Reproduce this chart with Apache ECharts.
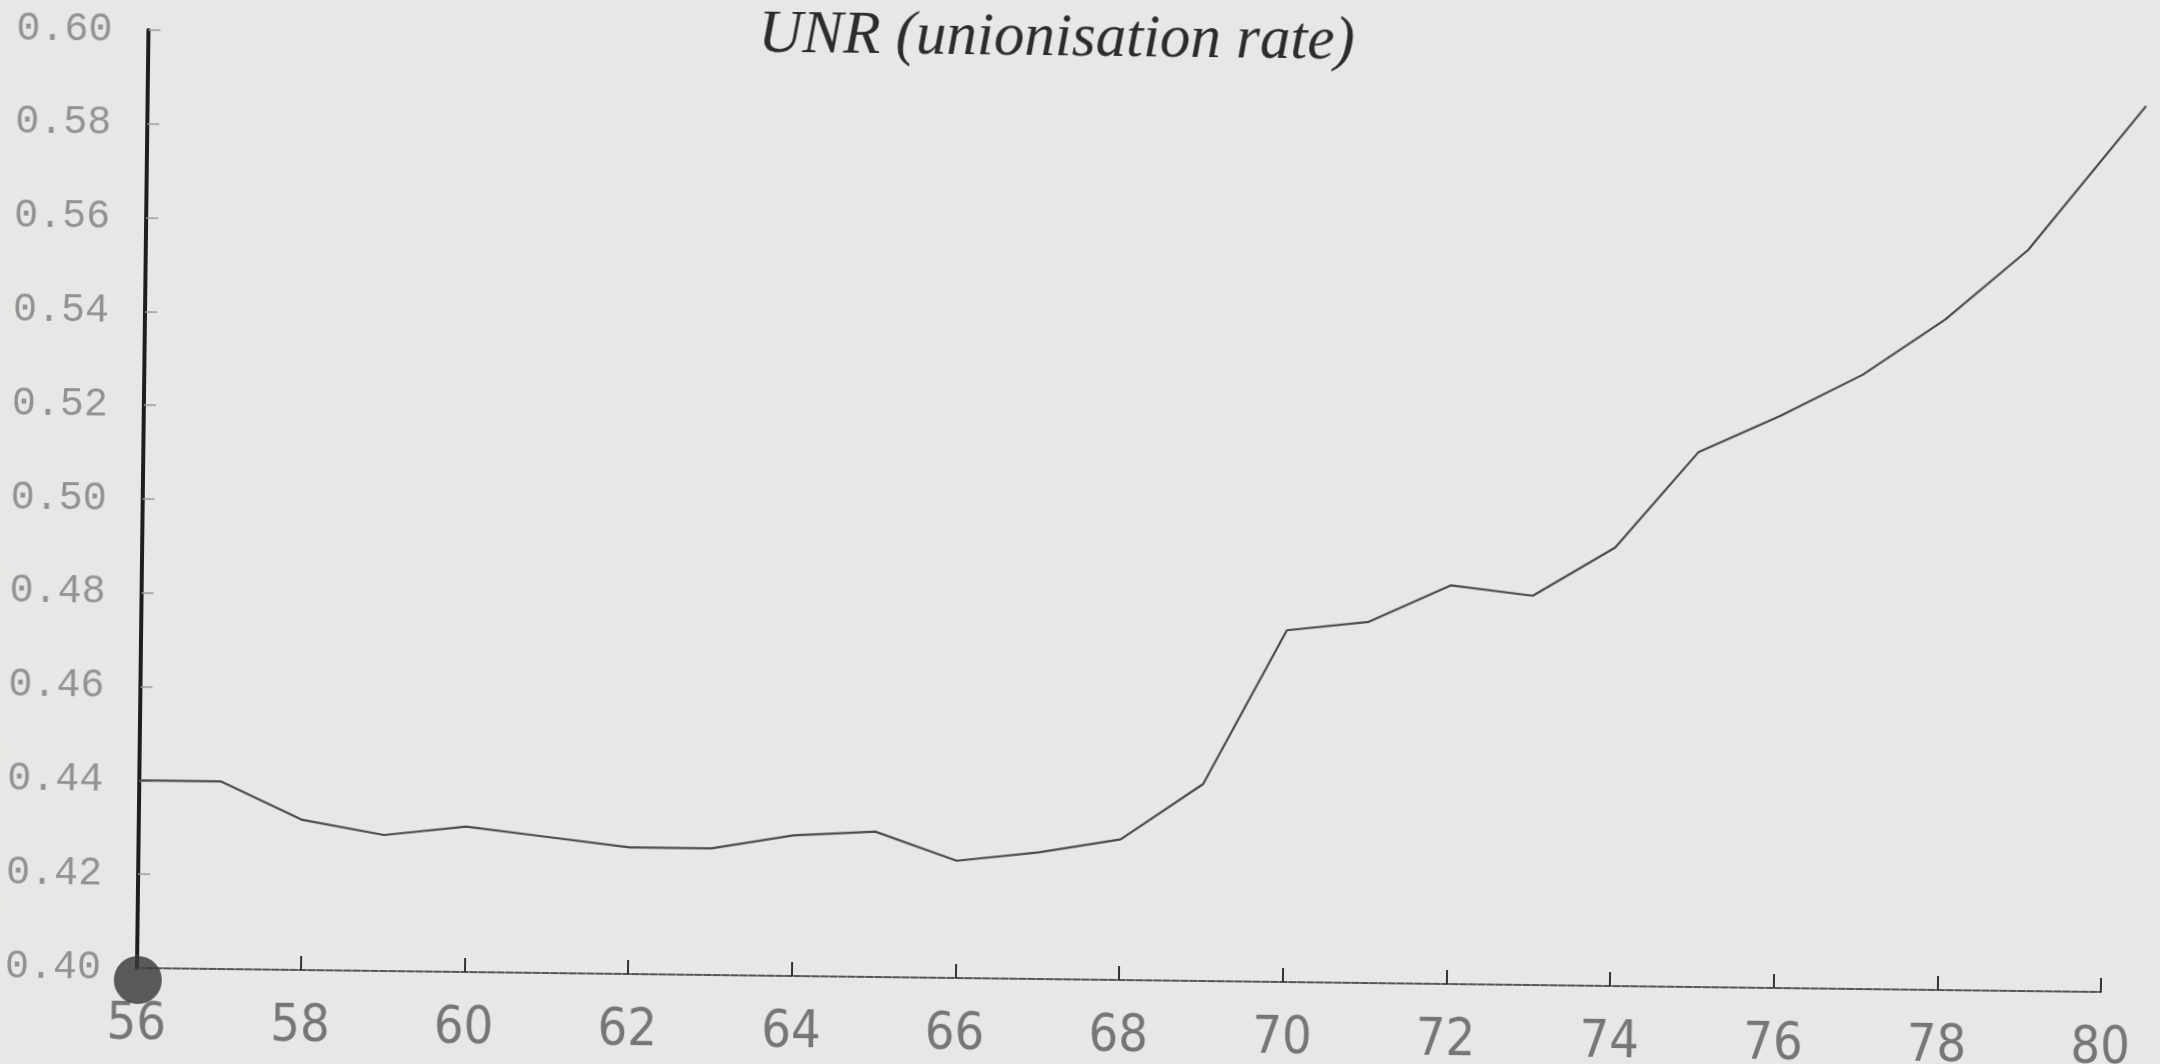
<!DOCTYPE html>
<html>
<head>
<meta charset="utf-8">
<script src="https://cdn.jsdelivr.net/npm/echarts@6/dist/echarts.min.js"></script>
<style>
  html, body { margin: 0; padding: 0; background: #e7e7e5; overflow: hidden; }
  #chart { width: 2160px; height: 1064px; transform: rotate(0.7deg); transform-origin: 137px 968px; }
</style>
</head>
<body>
<div id="chart"></div>
<script>
// Years (19xx) and unionisation rate
const years = [56, 57, 58, 59, 60, 61, 62, 63, 64, 65, 66, 67, 68, 69, 70, 71, 72, 73, 74, 75, 76, 77, 78, 79, 80.42];
const unr   = [0.440, 0.440, 0.432, 0.429, 0.431, 0.429, 0.427, 0.427, 0.430, 0.431, 0.425, 0.427, 0.430, 0.442, 0.475, 0.477, 0.485, 0.483, 0.4935, 0.514, 0.522, 0.531, 0.543, 0.558, 0.589];
const xTicks = { min: 56, max: 80, step: 2 };
const yTicks = { min: 0.40, max: 0.60, step: 0.02 };
const lineXMax = 80.42; // the plotted curve runs a little past the last axis tick
const titleText = 'UNR (unionisation rate)';
const originMark = [[56, 0.40]];

const pxPerYear = (2160 - 137 - 59) / (xTicks.max - xTicks.min);
const rightLine = 2160 - 137 - pxPerYear * (lineXMax - xTicks.min);

const chart = echarts.init(document.getElementById('chart'), null, { renderer: 'canvas' });
chart.setOption({
  backgroundColor: '#e7e7e5',
  animation: false,
  title: {
    text: titleText,
    left: 742, top: -8,
    textStyle: { fontFamily: 'Liberation Serif', fontStyle: 'italic', fontWeight: 'normal', fontSize: 61, color: '#2c2c2c' }
  },
  grid: [
    { left: 137, right: 59, top: 30, bottom: 96, containLabel: false },
    { left: 137, right: rightLine, top: 30, bottom: 96, containLabel: false }
  ],
  xAxis: [
    {
      gridIndex: 0, type: 'value', min: xTicks.min, max: xTicks.max, interval: xTicks.step,
      axisLine: { show: true, lineStyle: { color: '#555', width: 2, type: [7, 2] } },
      axisTick: { show: true, inside: true, length: 14, lineStyle: { color: '#333', width: 2 } },
      axisLabel: { show: true, margin: 31, fontFamily: 'Liberation Sans Narrow, DejaVu Sans Condensed, sans-serif', fontSize: 52, color: '#767676',
                   formatter: v => String(Math.round(v)) },
      splitLine: { show: false }
    },
    {
      gridIndex: 1, type: 'value', min: xTicks.min, max: lineXMax, show: false
    }
  ],
  yAxis: [
    {
      gridIndex: 0, type: 'value', min: yTicks.min, max: yTicks.max, interval: yTicks.step,
      axisLine: { show: true, lineStyle: { color: '#1e1e1e', width: 4 } },
      axisTick: { show: true, inside: true, length: 12, lineStyle: { color: '#9a9a9a', width: 1.5 } },
      axisLabel: { show: true, margin: 36, fontFamily: 'Liberation Mono, DejaVu Sans Mono, monospace', fontSize: 40, color: '#929292',
                   formatter: v => v.toFixed(2) },
      splitLine: { show: false }
    },
    {
      gridIndex: 1, type: 'value', min: yTicks.min, max: yTicks.max, show: false
    }
  ],
  series: [
    {
      type: 'line', name: 'UNR', xAxisIndex: 1, yAxisIndex: 1,
      data: years.map((y, i) => [y, unr[i]]),
      showSymbol: false,
      lineStyle: { color: '#4c4c4c', width: 2.2 }
    },
    {
      type: 'scatter', xAxisIndex: 0, yAxisIndex: 0, data: originMark, symbol: 'circle', symbolSize: 48,
      symbolOffset: [1, 12], itemStyle: { color: '#363636' }, z: 10, silent: true
    }
  ]
});
</script>
</body>
</html>
